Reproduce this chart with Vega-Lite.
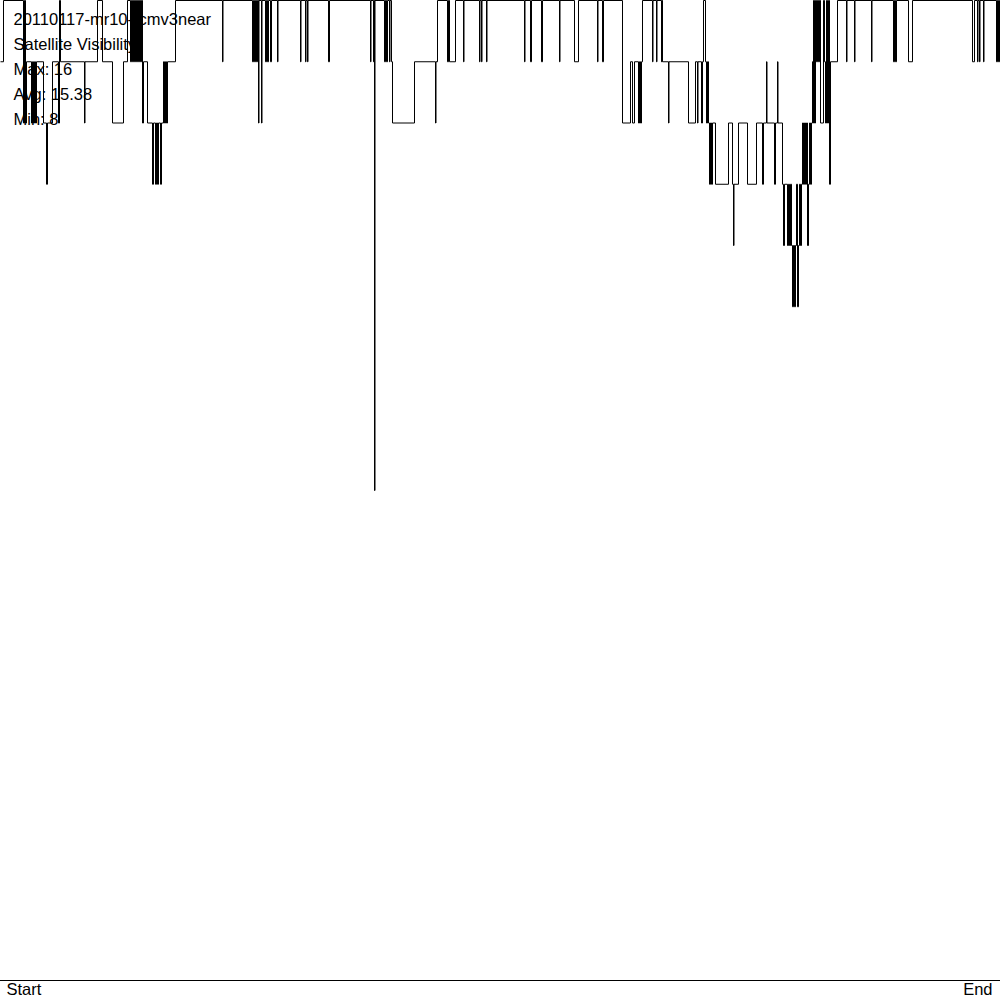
{
  "$schema": "https://vega.github.io/schema/vega-lite/v6.json",
  "width": 1000,
  "height": 1000,
  "autosize": "none",
  "padding": 0,
  "background": "white",
  "config": {"view": {"stroke": null}, "font": "Liberation Sans"},
  "resolve": {"scale": {"y": "independent"}},
  "layer": [
    {
      "data": {"values": [
        {"t":0,"v":15},{"t":3,"v":16},{"t":23,"v":14},{"t":24,"v":16},{"t":25,"v":14},{"t":26,"v":15},
        {"t":31,"v":14},{"t":32,"v":15},{"t":33,"v":14},{"t":34,"v":15},{"t":35,"v":14},{"t":36,"v":15},
        {"t":43,"v":14},{"t":46,"v":13},{"t":47,"v":14},{"t":52,"v":15},{"t":58,"v":14},{"t":59,"v":16},
        {"t":60,"v":15},{"t":84,"v":14},{"t":84.5,"v":15},{"t":97,"v":16},{"t":102,"v":15},{"t":112,"v":14},
        {"t":123,"v":15},{"t":127,"v":16},{"t":130,"v":15},{"t":131,"v":16},{"t":132,"v":15},{"t":133,"v":16},
        {"t":134,"v":15},{"t":135,"v":16},{"t":136,"v":15},{"t":137,"v":16},{"t":138,"v":15},{"t":139,"v":16},
        {"t":140,"v":15},{"t":141,"v":16},{"t":142,"v":14},{"t":143,"v":15},{"t":147,"v":14},{"t":152,"v":13},
        {"t":153,"v":14},{"t":155,"v":13},{"t":156,"v":14},{"t":157,"v":13},{"t":158,"v":14},{"t":160,"v":13},
        {"t":161,"v":14},{"t":163,"v":15},{"t":164,"v":14},{"t":165,"v":15},{"t":166,"v":14},{"t":167,"v":15},
        {"t":175,"v":16},{"t":222,"v":15},{"t":222.5,"v":16},{"t":252,"v":15},{"t":253,"v":16},{"t":254,"v":15},
        {"t":255,"v":16},{"t":256,"v":15},{"t":257,"v":16},{"t":258,"v":14},{"t":258.5,"v":16},{"t":261,"v":14},
        {"t":261.5,"v":16},{"t":265,"v":15},{"t":266,"v":16},{"t":267,"v":15},{"t":268,"v":16},{"t":270,"v":15},
        {"t":271,"v":16},{"t":277,"v":15},{"t":277.5,"v":16},{"t":300,"v":15},{"t":300.5,"v":16},{"t":305,"v":15},
        {"t":305.5,"v":16},{"t":307,"v":15},{"t":307.5,"v":16},{"t":328,"v":15},{"t":329,"v":16},{"t":370,"v":15},
        {"t":370.5,"v":16},{"t":373,"v":15},{"t":373.5,"v":16},{"t":374,"v":8},{"t":374.5,"v":16},{"t":384,"v":15},
        {"t":385,"v":16},{"t":386,"v":15},{"t":387,"v":16},{"t":389,"v":15},{"t":389.5,"v":16},{"t":391,"v":15},
        {"t":392,"v":14},{"t":414,"v":15},{"t":435,"v":14},{"t":435.5,"v":15},{"t":437,"v":16},{"t":447,"v":15},
        {"t":448,"v":16},{"t":449,"v":15},{"t":455,"v":16},{"t":463,"v":15},{"t":463.5,"v":16},{"t":479,"v":15},
        {"t":479.5,"v":16},{"t":481,"v":15},{"t":481.5,"v":16},{"t":486,"v":15},{"t":486.5,"v":16},{"t":524,"v":15},
        {"t":524.5,"v":16},{"t":530,"v":15},{"t":531,"v":16},{"t":541,"v":15},{"t":542,"v":16},{"t":559,"v":15},
        {"t":559.5,"v":16},{"t":574,"v":15},{"t":578,"v":16},{"t":597,"v":15},{"t":597.5,"v":16},{"t":602,"v":15},
        {"t":603,"v":16},{"t":622,"v":14},{"t":630,"v":15},{"t":632,"v":14},{"t":634,"v":15},{"t":638,"v":14},
        {"t":639,"v":15},{"t":640,"v":14},{"t":641,"v":15},{"t":642,"v":16},{"t":652,"v":15},{"t":652.5,"v":16},
        {"t":656,"v":15},{"t":656.5,"v":16},{"t":661,"v":15},{"t":661.5,"v":16},{"t":662,"v":15},{"t":668,"v":14},
        {"t":668.5,"v":15},{"t":688,"v":14},{"t":695,"v":15},{"t":697,"v":14},{"t":697.5,"v":15},{"t":701,"v":14},
        {"t":702,"v":15},{"t":703,"v":16},{"t":705,"v":15},{"t":706,"v":14},{"t":707,"v":15},{"t":708,"v":14},
        {"t":709,"v":13},{"t":710,"v":14},{"t":711,"v":13},{"t":712,"v":14},{"t":715,"v":13},{"t":728,"v":14},
        {"t":732,"v":13},{"t":733,"v":12},{"t":733.5,"v":13},{"t":738,"v":14},{"t":747,"v":13},{"t":756,"v":14},
        {"t":762,"v":13},{"t":763,"v":14},{"t":766,"v":15},{"t":766.5,"v":14},{"t":774,"v":13},{"t":775,"v":14},
        {"t":777,"v":15},{"t":777.5,"v":14},{"t":782,"v":13},{"t":783,"v":12},{"t":784,"v":13},{"t":787,"v":12},
        {"t":788,"v":13},{"t":789,"v":12},{"t":790,"v":13},{"t":791,"v":12},{"t":792,"v":11},{"t":793,"v":12},
        {"t":794,"v":11},{"t":795,"v":12},{"t":796,"v":13},{"t":797,"v":11},{"t":798,"v":12},{"t":799,"v":13},
        {"t":800,"v":12},{"t":801,"v":13},{"t":802,"v":14},{"t":803,"v":13},{"t":804,"v":14},{"t":805,"v":13},
        {"t":806,"v":14},{"t":807,"v":12},{"t":808,"v":13},{"t":809,"v":14},{"t":810,"v":13},{"t":811,"v":14},
        {"t":812,"v":15},{"t":812.5,"v":14},{"t":813,"v":16},{"t":814,"v":14},{"t":815,"v":16},{"t":816,"v":15},
        {"t":817,"v":16},{"t":818,"v":15},{"t":819,"v":16},{"t":820,"v":14},{"t":823,"v":16},{"t":824,"v":15},
        {"t":825,"v":14},{"t":826,"v":16},{"t":827,"v":14},{"t":828,"v":16},{"t":829,"v":13},{"t":830,"v":15},
        {"t":837,"v":16},{"t":846,"v":15},{"t":846.5,"v":16},{"t":854,"v":15},{"t":854.5,"v":16},{"t":871,"v":15},
        {"t":871.5,"v":16},{"t":893,"v":15},{"t":894,"v":16},{"t":895,"v":15},{"t":896,"v":16},{"t":908,"v":15},
        {"t":912,"v":16},{"t":972,"v":15},{"t":974,"v":16},{"t":977,"v":15},{"t":977.5,"v":16},{"t":979,"v":15},
        {"t":979.5,"v":16},{"t":983,"v":15},{"t":983.5,"v":16},{"t":996,"v":15},{"t":997,"v":16},{"t":998,"v":15},
        {"t":999,"v":16},{"t":1000,"v":16}
      ]},
      "mark": {"type": "line", "interpolate": "step-after", "color": "black", "strokeWidth": 1, "clip": false},
      "encoding": {
        "x": {"field": "t", "type": "quantitative", "scale": {"domain": [0, 1000], "range": [0.5, 1000.5], "nice": false, "zero": false}, "axis": null},
        "y": {"field": "v", "type": "quantitative", "scale": {"domain": [0, 16], "range": [980.5, 0.5], "nice": false}, "axis": null}
      }
    },
    {
      "data": {"values": [{"base": 0}]},
      "mark": {"type": "rule", "color": "black", "strokeWidth": 1},
      "encoding": {
        "y": {"field": "base", "type": "quantitative", "scale": {"domain": [0, 16], "range": [980.5, 0.5], "nice": false}, "axis": null}
      }
    },
    {
      "data": {"values": [
        {"label": "20110117-mr10-rcmv3near", "row": 1},
        {"label": "Satellite Visibility", "row": 2},
        {"label": "Max: 16", "row": 3},
        {"label": "Avg: 15.38", "row": 4},
        {"label": "Min: 8", "row": 5}
      ]},
      "mark": {"type": "text", "align": "left", "baseline": "middle", "fontSize": 16.5, "color": "black", "dx": 13},
      "encoding": {
        "x": {"datum": 0, "type": "quantitative"},
        "y": {"field": "row", "type": "ordinal", "scale": {"type": "point", "range": [20, 120], "padding": 0}, "axis": null},
        "text": {"field": "label"}
      }
    },
    {
      "data": {"values": [{"label": "Start", "t": 0, "v": 0}]},
      "mark": {"type": "text", "align": "left", "baseline": "middle", "fontSize": 16.5, "color": "black", "dx": 6, "dy": 10},
      "encoding": {
        "x": {"field": "t", "type": "quantitative"},
        "y": {"field": "v", "type": "quantitative", "scale": {"domain": [0, 16], "range": [980, 0], "nice": false}, "axis": null},
        "text": {"field": "label"}
      }
    },
    {
      "data": {"values": [{"label": "End", "t": 1000, "v": 0}]},
      "mark": {"type": "text", "align": "right", "baseline": "middle", "fontSize": 16.5, "color": "black", "dx": -8, "dy": 10},
      "encoding": {
        "x": {"field": "t", "type": "quantitative"},
        "y": {"field": "v", "type": "quantitative", "scale": {"domain": [0, 16], "range": [980, 0], "nice": false}, "axis": null},
        "text": {"field": "label"}
      }
    }
  ]
}
